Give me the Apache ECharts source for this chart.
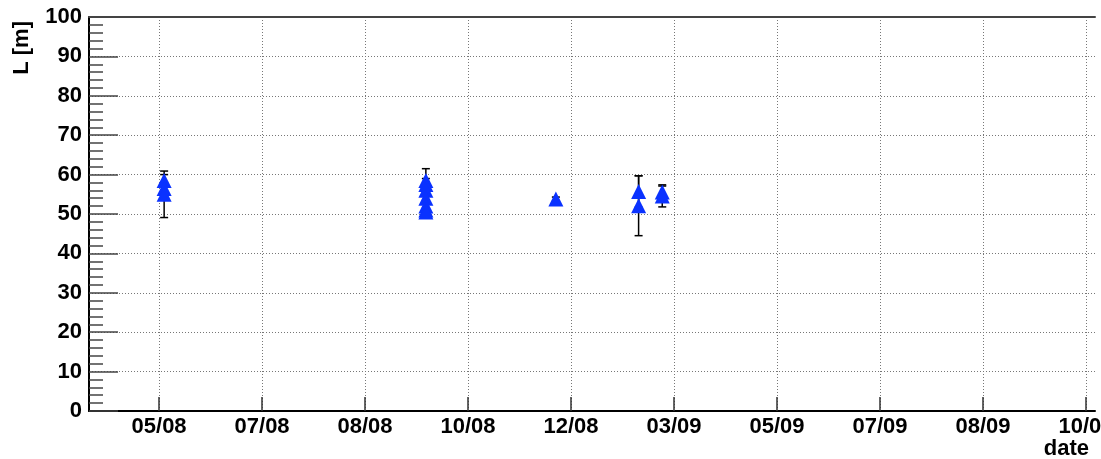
<!DOCTYPE html>
<html>
<head>
<meta charset="utf-8">
<script src="https://cdn.jsdelivr.net/npm/echarts@6/dist/echarts.min.js"></script>
<style>html,body{margin:0;padding:0;background:#fff}#c{width:1101px;height:459px}</style>
</head>
<body>
<div id="c"></div>
<script>
// x values are days counted from the first labelled tick (05/08)
const tickLabels = ['05/08','07/08','08/08','10/08','12/08','03/09','05/09','07/09','08/09','10/09'];
const tickStep = 61;
const xDays = [3, 3, 3, 158, 158, 158, 158, 158, 158, 158, 235, 284, 284, 298, 298];
const yVals = [58.5, 56.5, 55, 58.5, 57.5, 56, 54, 52, 51, 50.5, 53.8, 55.7, 52.1, 55.6, 54.6];
const yErr  = [1.5, 1.5, 5.9, 3.0, 1.5, 1.5, 1.5, 1.5, 1.5, 1.0, 0.5, 4.0, 7.6, 1.5, 2.8];

const tickValues = tickLabels.map((_, i) => i * tickStep);
const FONT = 'Liberation Sans';

const chart = echarts.init(document.getElementById('c'), null, {renderer: 'canvas'});
const pts = xDays.map((x, i) => [x, yVals[i], yErr[i]]);

chart.setOption({
  animation: false,
  backgroundColor: '#fff',
  grid: {left: 89, top: 17, right: 6, bottom: 48, containLabel: false, outerBoundsMode: 'none'},
  xAxis: [{
    type: 'value', min: -41.5, max: 554.3,
    axisLine: {show: true, onZero: false, lineStyle: {color: '#000', width: 2}},
    axisTick: {show: true, inside: true, length: 14, customValues: tickValues, lineStyle: {color: '#333', width: 1.5}},
    axisLabel: {show: true, customValues: tickValues, margin: 5, hideOverlap: false, fontFamily: FONT, fontWeight: 'bold', fontSize: 22, color: '#000',
      formatter: v => tickLabels[Math.round(v / tickStep)] || ''},
    splitLine: {show: true, lineStyle: {color: '#777', width: 1, type: [1, 2]}}
  }, {
    type: 'value', position: 'top', min: -41.5, max: 554.3,
    axisLine: {show: true, onZero: false, lineStyle: {color: '#444', width: 2}},
    axisTick: {show: false}, axisLabel: {show: false}, splitLine: {show: false}
  }],
  yAxis: [{
    type: 'value', min: 0, max: 100, interval: 10,
    axisLine: {show: true, onZero: false, lineStyle: {color: '#000', width: 2}},
    axisTick: {show: true, inside: true, length: 29, lineStyle: {color: '#444', width: 1.5}},
    minorTick: {show: true, splitNumber: 5, length: 14, lineStyle: {color: '#444', width: 1.5}},
    axisLabel: {margin: 7, fontFamily: FONT, fontWeight: 'bold', fontSize: 22, color: '#000'},
    splitLine: {show: true, lineStyle: {color: '#777', width: 1, type: [1, 2]}}
  }],
  series: [{
    type: 'custom',
    data: pts,
    z: 2,
    renderItem: function (params, api) {
      const x = api.value(0), y = api.value(1), e = api.value(2);
      const top = api.coord([x, y + e]);
      const bot = api.coord([x, y - e]);
      const hw = 4;
      const st = {stroke: '#000', lineWidth: 1.5};
      return {type: 'group', children: [
        {type: 'line', shape: {x1: top[0], y1: top[1], x2: bot[0], y2: bot[1]}, style: st},
        {type: 'line', shape: {x1: top[0] - hw, y1: top[1], x2: top[0] + hw, y2: top[1]}, style: st},
        {type: 'line', shape: {x1: bot[0] - hw, y1: bot[1], x2: bot[0] + hw, y2: bot[1]}, style: st}
      ]};
    }
  }, {
    type: 'scatter',
    data: pts.map(p => [p[0], p[1]]),
    symbol: 'triangle',
    symbolSize: 15,
    z: 3,
    itemStyle: {color: '#0a32ff', opacity: 1}
  }],
  graphic: [
    {type: 'text', x: 1089, y: 438, style: {text: 'date', textAlign: 'right', textVerticalAlign: 'top', font: 'bold 22px "Liberation Sans"', fill: '#000'}},
    {type: 'text', x: 22, y: 21, rotation: Math.PI / 2, style: {text: 'L [m]', textAlign: 'right', textVerticalAlign: 'middle', font: 'bold 22px "Liberation Sans"', fill: '#000'}}
  ]
});
</script>
</body>
</html>
